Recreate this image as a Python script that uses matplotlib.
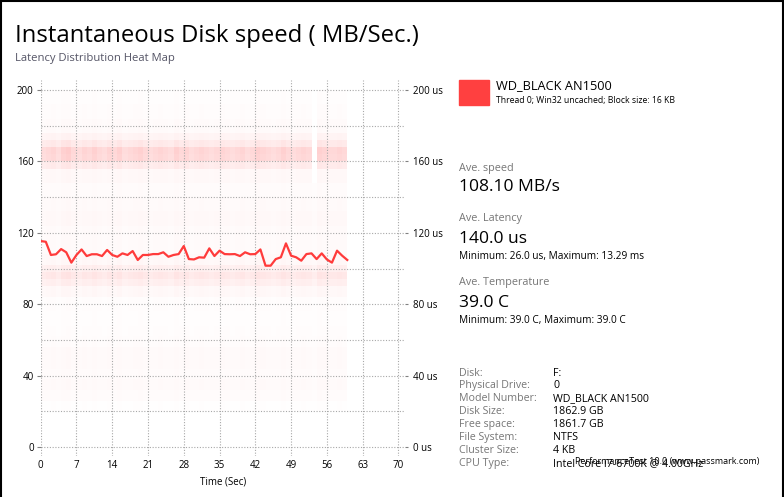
import numpy as np
import matplotlib
matplotlib.use("Agg")
import matplotlib.pyplot as plt
from matplotlib.colors import LinearSegmentedColormap

plt.rcParams['font.family'] = ['Open Sans', 'DejaVu Sans']

# Speed samples, one per second (MB/s)
time_sec = list(range(0, 61))
speed_mb = [115.4, 115.0, 107.6, 108.0, 110.9, 109.1, 103.3, 107.6, 110.7, 107.0,
            108.0, 108.0, 107.0, 110.4, 107.6, 106.6, 108.5, 107.6, 109.8, 104.8,
            107.6, 107.6, 108.1, 108.1, 109.1, 106.6, 107.6, 108.1, 112.6, 105.3,
            105.1, 106.3, 106.1, 111.3, 107.0, 110.0, 108.1, 108.0, 108.1, 107.0,
            109.1, 108.0, 108.1, 110.7, 101.6, 101.6, 105.3, 106.3, 114.1, 107.2,
            106.3, 104.4, 108.1, 108.5, 105.3, 108.5, 105.1, 103.3, 110.0, 107.2,
            104.8]

# Latency heat map: bin edges (us), relative density per bin, per-second weight
lat_edges = [20, 26, 32, 38, 44, 50, 56, 62, 68, 76, 84, 90, 94, 98, 102, 108, 116,
             124, 132, 140, 148, 156, 160, 164, 168, 172, 176, 184, 192, 200]
lat_level = [0.03, 0.07, 0.09, 0.07, 0.09, 0.09, 0.06, 0.05, 0.04, 0.05, 0.12,
             0.25, 0.36, 0.25, 0.12, 0.08, 0.08, 0.11, 0.09, 0.07, 0.11, 0.32,
             0.58, 0.62, 0.34, 0.18, 0.08, 0.06, 0.04]
col_weight = [0.9, 1.0, 1.1, 0.9, 1.2, 1.3, 1.0, 0.9, 1.1, 1.0,
              1.2, 1.0, 0.9, 1.1, 1.0, 1.2, 0.9, 1.0, 1.1, 1.2,
              1.0, 0.9, 1.0, 1.1, 1.0, 0.9, 1.2, 1.0, 1.1, 0.9,
              1.0, 1.1, 1.0, 0.9, 1.0, 1.1, 1.0, 0.9, 1.0, 1.1,
              0.9, 1.0, 1.2, 1.1, 1.0, 0.9, 1.0, 1.2, 1.0, 0.9,
              1.0, 1.1, 1.0, 0.8, 1.2, 1.1, 1.0, 1.0, 1.1, 1.0]
gap_cols = [53]

heat = np.outer(lat_level, col_weight)
lat_mid = (np.array(lat_edges[:-1]) + np.array(lat_edges[1:])) / 2
for c in gap_cols:
    heat[lat_mid > 150, c] = 0
col_edges = list(range(0, 61))

fig = plt.figure(figsize=(7.84, 4.97), dpi=100)
ax = fig.add_axes([0.0519, 0.0825, 0.4647, 0.7565])

cmap = LinearSegmentedColormap.from_list("pinks", ["#ffffff", "#ff8080"])
ax.pcolormesh(col_edges, lat_edges, heat, cmap=cmap, vmin=0, vmax=2.0,
              shading="flat", zorder=1)

ax.plot(time_sec, speed_mb, color="#ff3b3b", linewidth=1.6, zorder=3)

ax.set_xlim(0, 71.3)
ax.set_ylim(-5, 205.6)
ax.set_xticks(range(0, 71, 7))
ax.set_yticks(range(0, 201, 40))
ax.set_yticks(range(20, 201, 40), minor=True)
ax.grid(True, which="both", color="#a8a8a8", linestyle=(0, (1, 1.5)),
        linewidth=0.8, zorder=2)
ax.set_axisbelow(False)
for s in ax.spines.values():
    s.set_visible(False)
ax.tick_params(axis="y", which="major", length=3, color="#808080", labelsize=7, pad=2)
ax.tick_params(axis="y", which="minor", length=0)
ax.tick_params(axis="x", length=0, labelsize=7, pad=3)
ax.set_xlabel("Time (Sec)", fontsize=7, labelpad=4)

# right axis labels (latency)
ax2 = ax.twinx()
ax2.set_ylim(-5, 205.6)
ax2.set_yticks(range(0, 201, 40))
ax2.set_yticklabels([f"{v} us" for v in range(0, 201, 40)])
ax2.tick_params(axis="y", length=2, color="#808080", labelsize=7, pad=4)
for s in ax2.spines.values():
    s.set_visible(False)

def px(x, y):
    return x / 784, 1 - y / 497

fig.text(*px(15, 36), "Instantaneous Disk speed ( MB/Sec.)", fontsize=17.2,
         va="center", ha="left", color="#000000")
fig.text(*px(15, 58), "Latency Distribution Heat Map", fontsize=8.1,
         va="center", ha="left", color="#555566")

# legend box
fig.patches.append(plt.Rectangle(px(459, 105), 30 / 784, 25 / 497,
                                 transform=fig.transFigure, color="#ff4040"))
fig.text(*px(496, 86), "WD_BLACK AN1500", fontsize=9.2, va="center", color="#000000")
fig.text(*px(496, 100), "Thread 0; Win32 uncached; Block size: 16 KB", fontsize=6.2,
         va="center", color="#000000")

gray = "#777777"
fig.text(*px(459, 168), "Ave. speed", fontsize=7.8, va="center", color=gray)
fig.text(*px(459, 187), "108.10 MB/s", fontsize=12.6, va="center", color="#000000")
fig.text(*px(459, 219), "Ave. Latency", fontsize=7.8, va="center", color=gray)
fig.text(*px(459, 239), "140.0 us", fontsize=12.6, va="center", color="#000000")
fig.text(*px(459, 257), "Minimum: 26.0 us, Maximum: 13.29 ms", fontsize=7.3,
         va="center", color="#000000")
fig.text(*px(459, 283), "Ave. Temperature", fontsize=7.8, va="center", color=gray)
fig.text(*px(459, 303), "39.0 C", fontsize=12.6, va="center", color="#000000")
fig.text(*px(459, 321), "Minimum: 39.0 C, Maximum: 39.0 C", fontsize=7.3,
         va="center", color="#000000")

info_labels = ["Disk:", "Physical Drive:", "Model Number:", "Disk Size:",
               "Free space:", "File System:", "Cluster Size:", "CPU Type:"]
info_values = ["F:", "0", "WD_BLACK AN1500", "1862.9 GB", "1861.7 GB",
               "NTFS", "4 KB", "Intel Core i7-6700K @ 4.00GHz"]
for i, (lab, val) in enumerate(zip(info_labels, info_values)):
    y = 373 + i * 12.9
    fig.text(*px(459, y), lab, fontsize=7.7, va="center", color=gray)
    fig.text(*px(553, y), val, fontsize=7.7, va="center", color="#000000")
# footer drawn over the CPU line, as in the original window
fig.text(*px(575, 462), "PerformanceTest 10.0 (www.passmark.com)", fontsize=6.5,
         va="center", color="#000000")

# window frame
for xs, ys in [([0.5, 0.5], [0, 497]), ([0, 784], [0.5, 0.5]), ([782.5, 782.5], [0, 497])]:
    fig.lines.append(plt.Line2D([x / 784 for x in xs], [1 - y / 497 for y in ys],
                                transform=fig.transFigure, color="#000000", linewidth=1.5))

fig.savefig("out.png", dpi=100, facecolor="white")
